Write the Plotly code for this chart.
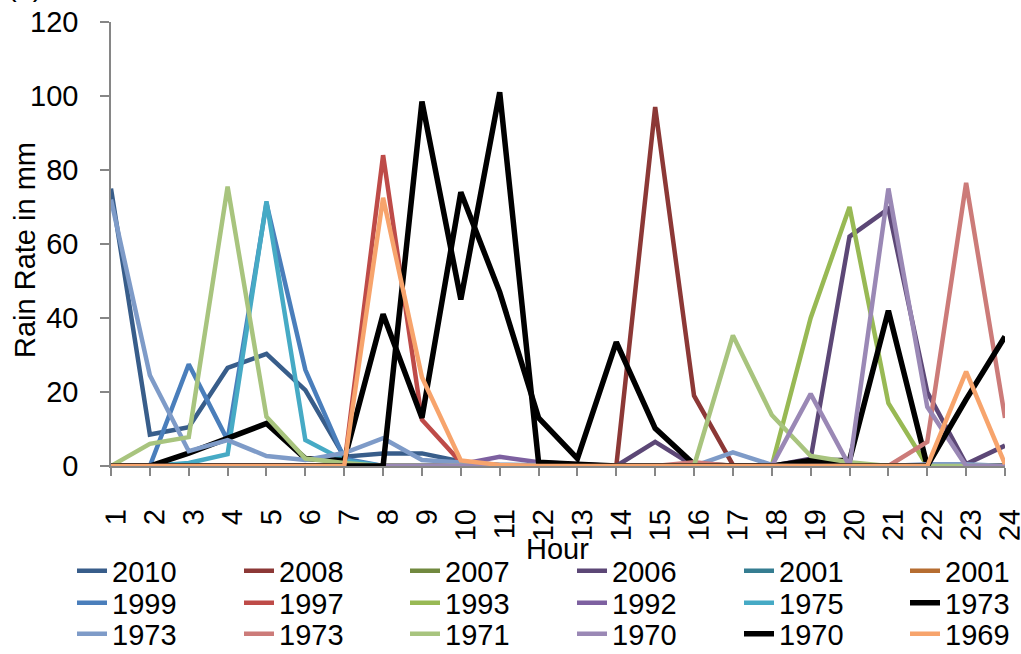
import plotly.graph_objects as go

hours = list(range(1, 25))

# Series values (Rain rate in mm)
s2010 = [75, 8.5, 10.5, 26.5, 30.3, 20.5, 2.5, 3.4, 3.4, 1.2, 0.3, 0, 0, 0, 0, 0, 0, 0, 0, 0, 0, 0, 0, 0]
s2008 = [0, 0, 0, 0, 0, 0, 0, 0, 0, 0, 0, 0, 0, 0, 97, 19, 0.3, 0, 0, 0, 0, 0, 0, 0]
s2007 = [0] * 24
s2006 = [0, 0, 0, 0, 0, 0, 0, 0, 0, 0, 0, 0, 0, 0, 6.5, 0, 0, 0, 2, 62, 69.5, 20, 0.5, 5.5]
s2001a = [0] * 24
s2001b = [0] * 24
s1999 = [0, 0, 27.5, 7, 71, 26, 2, 0, 0, 0, 0, 0, 0, 0, 0, 0, 0, 0, 0, 0, 0, 0, 0, 0]
s1997 = [0, 0, 0, 0, 0, 0, 0, 84, 12.5, 1, 0, 0, 0, 0, 0, 0, 0, 0, 0, 0, 0, 0, 0, 0]
s1993 = [0, 0, 0, 0, 0, 0, 0, 0, 0, 0, 0, 0, 0, 0, 0, 0, 0, 0, 40, 70, 17, 0, 0, 0]
s1992 = [0, 0, 0, 0, 0, 0, 0, 0, 0, 0.5, 2.5, 1, 0.5, 0, 0, 0, 0, 0, 0, 0, 0, 0, 0, 0]
s1975 = [0, 0, 0.8, 3.2, 71.5, 7, 1.5, 0, 0, 0, 0, 0, 0, 0, 0, 0, 0, 0, 0, 0, 0, 0, 0, 0]
s1973k = [0, 0, 3.5, 7.5, 11.5, 2, 1.5, 41, 13, 74, 47, 13, 2, 33.5, 10.2, 0.5, 0, 0, 1.5, 1.5, 42, 0, 0, 0]
s1973b = [72, 24.5, 4, 7, 2.7, 1.6, 3.5, 7.5, 1.6, 0.8, 0.3, 0.3, 0.3, 0.3, 0.3, 0, 3.7, 0.3, 0, 0, 0, 0.5, 0.5, 0]
s1973p = [0, 0, 0, 0, 0, 0, 0, 0, 0, 0, 0, 0, 0, 0, 0, 1, 0, 0, 0, 0, 0, 6.5, 76.5, 13]
s1971 = [0, 6, 7.8, 75.5, 13.3, 2, 0.8, 0, 0, 0, 0, 0, 0, 0, 0, 0, 35.3, 13.8, 2.7, 1, 0, 0, 0, 0]
s1970p = [0, 0, 0, 0, 0, 0, 0, 0, 0, 0, 0, 0, 0, 0, 0, 0, 0, 0, 19.5, 0, 75, 16, 0, 0]
s1970k = [0, 0, 0, 0, 0, 0, 0, 0, 98.5, 45, 101, 1, 0.5, 0, 0, 0, 0, 0, 0, 0, 0, 0, 18, 35]
s1969 = [0, 0, 0, 0, 0, 0, 0, 72.5, 24, 1.5, 0.3, 0, 0, 0, 0, 0, 0, 0, 0, 0, 0, 0, 25.5, 0.5]

series_names = ["2010", "2008", "2007", "2006", "2001", "2001",
                "1999", "1997", "1993", "1992", "1975", "1973",
                "1973", "1973", "1971", "1970", "1970", "1969"]
series_values = [s2010, s2008, s2007, s2006, s2001a, s2001b,
                 s1999, s1997, s1993, s1992, s1975, s1973k,
                 s1973b, s1973p, s1971, s1970p, s1970k, s1969]
series_colors = ["#385D8A", "#8C3836", "#71893F", "#5C4776", "#357D91", "#B66D31",
                 "#4A7EBB", "#BE4B48", "#98B954", "#7D60A0", "#46AAC5", "#000000",
                 "#7E9BC8", "#CC7B79", "#A8C47E", "#9A88B5", "#000000", "#F7A46C"]

FONT = "Liberation Sans, Arial, sans-serif"

W, H = 1021, 654
L, R, T, B = 111, 16, 22, 188
pw, ph = W - L - R, H - T - B


def px_to_paper_y(py):
    return (H - B - py) / ph


def px_to_paper_x(px):
    return (px - L) / pw


# legend grid (6 columns x 3 rows), pixel anchors
col_x = [72, 239, 405, 572, 739, 905]
row_y = [571, 603, 634]

fig = go.Figure()
legend_layout = {}
for i, (name, vals, col) in enumerate(zip(series_names, series_values, series_colors)):
    r, c = divmod(i, 6)
    lid = "legend" if i == 0 else f"legend{i + 1}"
    fig.add_trace(go.Scatter(
        x=hours, y=vals, name=name, mode="lines", showlegend=True,
        line=dict(color=col, width=5.5 if col == "#000000" else 4.5),
        legend=lid,
    ))
    legend_layout[lid] = dict(
        orientation="v", xanchor="left", yanchor="middle",
        x=px_to_paper_x(col_x[c]), y=px_to_paper_y(row_y[r]),
        font=dict(family=FONT, size=29, color="black"),
        itemwidth=30, bgcolor="rgba(0,0,0,0)", borderwidth=0,
    )

fig.update_layout(
    width=W, height=H, showlegend=True,
    margin=dict(l=L, r=R, t=T, b=B, autoexpand=False),
    paper_bgcolor="white", plot_bgcolor="white",
    font=dict(family=FONT, size=29, color="black"),
    xaxis=dict(
        range=[1, 24], tickmode="array", tickvals=hours, ticktext=[str(h) for h in hours],
        tickangle=-89.9, ticks="outside", ticklen=8, tickwidth=1.5, tickcolor="#868686",
        showline=True, linecolor="#868686", linewidth=1.5, showgrid=False, zeroline=False,
        tickfont=dict(family=FONT, size=29, color="black"), ticklabelstandoff=13,
        ticklabeloverflow="allow", automargin=False,
    ),
    yaxis=dict(
        range=[0, 120], tickmode="linear", tick0=0, dtick=20,
        ticks="outside", ticklen=9, tickwidth=1.5, tickcolor="#868686",
        showline=True, linecolor="#868686", linewidth=1.5, showgrid=False, zeroline=False,
        tickfont=dict(family=FONT, size=29, color="black"), ticklabelstandoff=16,
        automargin=False,
    ),
    xaxis2=dict(range=[1, 24], overlaying="x", tickmode="array", tickvals=hours,
                ticks="inside", ticklen=8, tickwidth=1.5, tickcolor="#868686",
                showticklabels=False, showline=False, showgrid=False, zeroline=False),
    yaxis2=dict(range=[0, 120], overlaying="y", tickmode="linear", tick0=0, dtick=20,
                ticks="inside", ticklen=9, tickwidth=1.5, tickcolor="#868686",
                showticklabels=False, showline=False, showgrid=False, zeroline=False),
    annotations=[
        dict(text="Rain Rate in mm", textangle=-90, xref="paper", yref="paper",
             x=px_to_paper_x(25), y=px_to_paper_y(250), xanchor="center", yanchor="middle",
             showarrow=False, font=dict(family=FONT, size=29, color="black")),
        dict(text="Hour", xref="paper", yref="paper",
             x=px_to_paper_x(557), y=px_to_paper_y(549), xanchor="center", yanchor="middle",
             showarrow=False, font=dict(family=FONT, size=29, color="black")),
        dict(text="(a)", xref="paper", yref="paper",
             x=px_to_paper_x(5), y=px_to_paper_y(4), xanchor="left", yanchor="bottom",
             showarrow=False, font=dict(family=FONT, size=29, color="black")),
    ],
    **legend_layout,
)

fig.write_html("out.html")
